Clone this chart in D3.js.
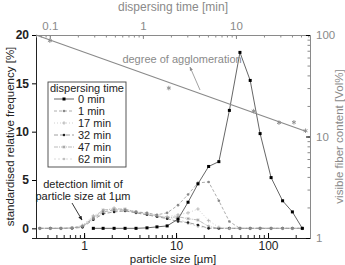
<!DOCTYPE html>
<html>
<head>
<meta charset="utf-8">
<script src="https://cdn.jsdelivr.net/npm/d3@7"></script>
<style>
  body { margin: 0; background: #fff; }
  svg { font-family: "Liberation Sans", Arial, sans-serif; }
</style>
</head>
<body>
<div id="chart"></div>
<script>
const width = 345, height = 265;

// particle size classes [µm]
const sizes = [0.33, 0.43, 0.56, 0.74, 0.96, 1.26, 1.61, 2.12, 2.79, 3.67, 4.83, 6.2, 8.0, 10.5, 13.5, 17.3,
               22.6, 29.2, 38, 49.5, 64, 82, 108, 144, 184, 236];

// standardised relative frequency [%] per dispersing time (null = not measured)
const freq0 = [null, null, null, null, null, 0, 0, 0, 0, 0, 0.05, 0.15, 0.25, 0.95, 2.7, 4.6,
               6.4, 6.9, 12.2, 18.2, 15.3, 9.8, 5.25, 2.85, 1.7, 0];
const freq1 = [0, 0, 0, 0.05, 0.2, 1.0, 1.7, 1.9, 1.9, 1.7, 1.6, 1.4, 1.6, 2.4, 3.5, 4.7,
               4.8, 2.85, 0.7, 0, 0, 0, 0, 0, 0, 0];
const freq17 = [0, 0, 0, 0.05, 0.3, 1.3, 1.8, 2.1, 1.9, 1.7, 1.5, 1.3, 1.2, 1.4, 1.6, 2.0,
                0.8, 0.1, 0, 0, 0, 0, 0, 0, 0, 0];
const freq32 = [0, 0, 0, 0, 0.1, 0.9, 1.5, 1.7, 1.8, 1.6, 1.4, 1.2, 1.0, 0.7, 0.6, 0.35,
                0, 0, 0, 0, 0, 0, 0, 0, 0, 0];
const freq47 = [0, 0, 0, 0.05, 0.2, 1.1, 1.9, 2.0, 2.0, 1.7, 1.5, 1.3, 1.1, 1.2, 1.0, 0.86,
                0.2, 0, 0, 0, 0, 0, 0, 0, 0, 0];
const freq62 = [0, 0, 0, 0, 0.3, 1.2, 1.6, 1.8, 1.85, 1.6, 1.4, 1.2, 1.1, 1.0, 0.5, 0.2,
                0, 0, 0, 0, 0, 0, 0, 0, 0, 0];

const legendNames = ["0 min", "1 min", "17 min", "32 min", "47 min", "62 min"];

// degree of agglomeration: dispersing time [min] vs visible fiber content [Vol%]
const aggTime = [0.1, 1.9, 15.5, 29, 42, 56];
const aggValue = [88, 30, 17.8, 13.7, 13.8, 11.4];
const fitTime = [0.071, 57];
const fitValue = [100, 11.2];

const xTicks = [1, 10, 100];
const yTicks = [0, 5, 10, 15, 20];
const topTicks = [0.1, 1, 10];
const rightTicks = [1, 10, 100];

const series = [
  {name: legendNames[0], values: freq0, color: "#555", dash: null, marker: "square", mcolor: "#000", width: 0.9},
  {name: legendNames[1], values: freq1, color: "#999", dash: "3,2", marker: "circle", mcolor: "#888", width: 0.8},
  {name: legendNames[2], values: freq17, color: "#c4c4c4", dash: "1,2", marker: "plus", mcolor: "#b0b0b0", width: 0.8},
  {name: legendNames[3], values: freq32, color: "#888", dash: "4,2", marker: "circle", mcolor: "#222", width: 0.8},
  {name: legendNames[4], values: freq47, color: "#aaa", dash: "4,1,1,1", marker: "star", mcolor: "#999", width: 0.8},
  {name: legendNames[5], values: freq62, color: "#d0d0d0", dash: "2,2", marker: "circle", mcolor: "#c0c0c0", width: 0.8}
];

const margin = {top: 35, right: 35, bottom: 27, left: 36};
const grey = "#8a8a8a";

const svg = d3.select("#chart").append("svg")
    .attr("width", width)
    .attr("height", height);

const x = d3.scaleLog().domain([0.3, 286]).range([margin.left, width - margin.right]);
const y = d3.scaleLinear().domain([-1, 20]).range([height - margin.bottom, margin.top]);
const xTop = d3.scaleLog().domain([0.071, 62.5]).range([margin.left, width - margin.right]);
const yRight = d3.scaleLog().domain([1, 100]).range([height - margin.bottom, margin.top]);

function minorLog(lo, hi) {
    let out = [];
    for (let d = Math.pow(10, Math.floor(Math.log10(lo))); d < hi; d *= 10)
        for (let k = 1; k < 10; k++) {
            let v = +(d * k).toPrecision(3);
            if (v >= lo && v <= hi) out.push(v);
        }
    return out;
}

// bottom axis
svg.append("g")
    .attr("transform", `translate(0,${height - margin.bottom})`)
    .call(d3.axisBottom(x).tickValues(minorLog(0.3, 286)).tickSize(-3).tickFormat(""))
    .call(g => g.selectAll("line").attr("stroke", "#222"));
svg.append("g")
    .attr("transform", `translate(0,${height - margin.bottom})`)
    .call(d3.axisBottom(x).tickValues(xTicks).tickSize(-5).tickPadding(3).tickFormat(d3.format("d")))
    .call(g => g.select(".domain").attr("stroke", "#222"))
    .call(g => g.selectAll("text").attr("font-size", 12).attr("fill", "#222"));

// left axis
svg.append("g")
    .attr("transform", `translate(${margin.left},0)`)
    .call(d3.axisLeft(y).tickValues(yTicks).tickSize(4).tickPadding(3))
    .call(g => g.select(".domain").attr("stroke", "#222"))
    .call(g => g.selectAll("text").attr("font-size", 12).attr("font-weight", "bold").attr("fill", "#222"));

// top axis
svg.append("g")
    .attr("transform", `translate(0,${margin.top})`)
    .call(d3.axisTop(xTop).tickValues(minorLog(0.071, 62.5)).tickSize(-2.5).tickFormat(""))
    .call(g => g.select(".domain").attr("stroke", grey))
    .call(g => g.selectAll("line").attr("stroke", grey));
svg.append("g")
    .attr("transform", `translate(0,${margin.top})`)
    .call(d3.axisTop(xTop).tickValues(topTicks).tickSize(-4).tickPadding(5).tickFormat(d => d))
    .call(g => g.select(".domain").remove())
    .call(g => g.selectAll("line").attr("stroke", grey))
    .call(g => g.selectAll("text").attr("font-size", 11.5).attr("fill", grey));

// right axis
svg.append("g")
    .attr("transform", `translate(${width - margin.right},0)`)
    .call(d3.axisRight(yRight).tickValues(minorLog(1, 100)).tickSize(-2.5).tickFormat(""))
    .call(g => g.select(".domain").attr("stroke", grey))
    .call(g => g.selectAll("line").attr("stroke", grey));
svg.append("g")
    .attr("transform", `translate(${width - margin.right},0)`)
    .call(d3.axisRight(yRight).tickValues(rightTicks).tickSize(-4).tickPadding(6).tickFormat(d3.format("d")))
    .call(g => g.select(".domain").remove())
    .call(g => g.selectAll("text").attr("font-size", 11.5).attr("fill", grey));

// axis titles
svg.append("text")
    .attr("x", (margin.left + width - margin.right) / 2).attr("y", 11)
    .attr("text-anchor", "middle").attr("font-size", 12).attr("fill", grey)
    .text("dispersing time [min]");
svg.append("text")
    .attr("x", (margin.left + width - margin.right) / 2).attr("y", 263)
    .attr("text-anchor", "middle").attr("font-size", 11.5).attr("fill", "#222")
    .text("particle size [µm]");
svg.append("text")
    .attr("transform", `translate(14,${(margin.top + height - margin.bottom) / 2}) rotate(-90)`)
    .attr("text-anchor", "middle").attr("font-size", 11.5).attr("fill", "#222")
    .text("standardised relative frequency [%]");
svg.append("text")
    .attr("transform", `translate(343,${(margin.top + height - margin.bottom) / 2}) rotate(-90)`)
    .attr("text-anchor", "middle").attr("font-size", 11.5).attr("fill", grey)
    .text("visible fiber content [Vol%]");

// markers
function drawMarker(g, type, color, px, py) {
    if (type == "square") {
        g.append("rect").attr("x", px - 1.5).attr("y", py - 1.5).attr("width", 3).attr("height", 3).attr("fill", color);
    } else if (type == "circle") {
        g.append("circle").attr("cx", px).attr("cy", py).attr("r", 1.3).attr("fill", color);
    } else if (type == "plus") {
        g.append("path").attr("d", `M${px - 1.8},${py}H${px + 1.8}M${px},${py - 1.8}V${py + 1.8}`)
            .attr("stroke", color).attr("stroke-width", 0.8);
    } else if (type == "star") {
        g.append("path").attr("d", d3.symbol(d3.symbolAsterisk, 8)()).attr("transform", `translate(${px},${py})`)
            .attr("fill", "none").attr("stroke", color).attr("stroke-width", 0.7);
    }
}

// frequency lines, drawn back to front so 0 min sits on top
const line = d3.line()
    .defined(d => d[1] != null)
    .x(d => x(d[0]))
    .y(d => y(d[1]));

series.slice().reverse().forEach(s => {
    let pts = sizes.map((v, i) => [v, s.values[i]]);
    let g = svg.append("g");
    g.append("path")
        .attr("d", line(pts))
        .attr("fill", "none")
        .attr("stroke", s.color)
        .attr("stroke-width", s.width)
        .attr("stroke-dasharray", s.dash);
    pts.filter(d => d[1] != null).forEach(d => drawMarker(g, s.marker, s.mcolor, x(d[0]), y(d[1])));
});

// degree of agglomeration
const fitLine = d3.line().x(d => xTop(d[0])).y(d => yRight(d[1]));
svg.append("path")
    .attr("d", fitLine(fitTime.map((t, i) => [t, fitValue[i]])))
    .attr("fill", "none").attr("stroke", grey).attr("stroke-width", 1.1);
aggTime.forEach((t, i) => {
    svg.append("path")
        .attr("d", d3.symbol(d3.symbolAsterisk, 14)())
        .attr("transform", `translate(${xTop(t)},${yRight(aggValue[i])})`)
        .attr("fill", "none").attr("stroke", grey).attr("stroke-width", 0.9);
});

// annotations
svg.append("defs").append("marker")
    .attr("id", "arrow").attr("viewBox", "0 0 10 10")
    .attr("refX", 9).attr("refY", 5)
    .attr("markerWidth", 5).attr("markerHeight", 5)
    .attr("orient", "auto")
  .append("path").attr("d", "M0,1L10,5L0,9z").attr("fill", "context-stroke");

svg.append("text")
    .attr("x", 182).attr("y", 63)
    .attr("text-anchor", "middle").attr("font-size", 11).attr("fill", grey)
    .text("degree of agglomeration");
svg.append("line")
    .attr("x1", 200).attr("y1", 90).attr("x2", 190).attr("y2", 67)
    .attr("stroke", grey).attr("stroke-width", 0.8)
    .attr("marker-end", "url(#arrow)");

svg.append("text")
    .attr("x", 83).attr("y", 188)
    .attr("text-anchor", "middle").attr("font-size", 11).attr("fill", "#222")
    .text("detection limit of");
svg.append("text")
    .attr("x", 83).attr("y", 200)
    .attr("text-anchor", "middle").attr("font-size", 11).attr("fill", "#222")
    .text("particle size at 1µm");
svg.append("line")
    .attr("x1", 72).attr("y1", 203).attr("x2", 82).attr("y2", 220)
    .attr("stroke", "#222").attr("stroke-width", 0.9)
    .attr("marker-end", "url(#arrow)");

// legend
const lg = svg.append("g");
lg.append("rect")
    .attr("x", 48).attr("y", 82).attr("width", 78).attr("height", 85)
    .attr("fill", "#fff").attr("stroke", "#444").attr("stroke-width", 0.9);
lg.append("text")
    .attr("x", 87).attr("y", 92)
    .attr("text-anchor", "middle").attr("font-size", 11).attr("fill", "#222")
    .text("dispersing time");
series.forEach((s, i) => {
    let ly = 99 + i * 12;
    let g = lg.append("g");
    g.append("line")
        .attr("x1", 54).attr("x2", 74).attr("y1", ly).attr("y2", ly)
        .attr("stroke", s.color).attr("stroke-width", s.width)
        .attr("stroke-dasharray", s.dash);
    drawMarker(g, s.marker, s.mcolor, 64, ly);
    g.append("text")
        .attr("x", 78).attr("y", ly + 4)
        .attr("font-size", 11).attr("fill", "#222")
        .text(s.name);
});
</script>
</body>
</html>
